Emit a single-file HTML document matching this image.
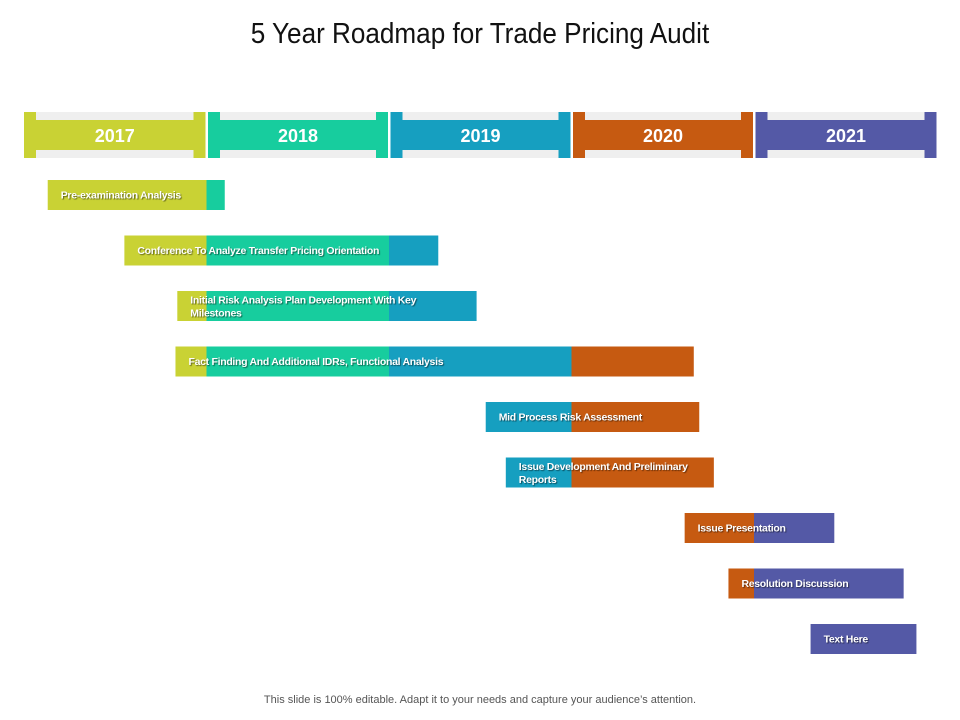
<!DOCTYPE html>
<html><head><meta charset="utf-8"><style>
body{margin:0;background:#fff;width:960px;height:720px;overflow:hidden;font-family:"Liberation Sans",sans-serif}
.title{position:absolute;left:0;top:18px;width:960px;text-align:center;font-size:29px;color:#111;transform:scaleX(0.9)}
.foot{position:absolute;left:0;top:694px;width:960px;text-align:center;font-size:11px;color:#555}
</style></head><body>
<div class="title">5 Year Roadmap for Trade Pricing Audit</div>
<svg id="chart" width="960" height="720" style="position:absolute;left:0;top:0"></svg>
<div class="foot">This slide is 100% editable. Adapt it to your needs and capture your audience’s attention.</div>
<script>
const years=["2017","2018","2019","2020","2021"];
const yearColors=["#c9d234","#17cd9e","#169fc0","#c65a11","#5459a6"];
const taskLabels=[["Pre-examination Analysis"],["Conference To Analyze Transfer Pricing Orientation"],["Initial Risk Analysis Plan Development With Key","Milestones"],["Fact Finding And Additional IDRs, Functional Analysis"],["Mid Process Risk Assessment"],["Issue Development And Preliminary","Reports"],["Issue Presentation"],["Resolution Discussion"],["Text Here"]];
const taskStart=[2017.13,2017.55,2017.84,2017.83,2019.53,2019.64,2020.62,2020.86,2021.31];
const taskEnd=[2018.10,2019.27,2019.48,2020.67,2020.70,2020.78,2021.44,2021.82,2021.89];
const NS="http://www.w3.org/2000/svg";
const svg=document.getElementById('chart');
const x0=24,yw=182.5;
const xs=v=>x0+(v-2017)*yw;
function mk(t,a){const e=document.createElementNS(NS,t);for(const k in a)e.setAttribute(k,a[k]);svg.appendChild(e);return e;}
years.forEach((y,i)=>{
  const l=xs(2017+i)+(i?1.5:0), r=xs(2018+i)-(i<4?1:0);
  const g=mk('rect',{x:l,y:112,width:r-l,height:46,fill:yearColors[i]});
  
  
  mk('rect',{x:l+12,y:112,width:r-l-24,height:8,fill:'#efefef'});
  mk('rect',{x:l+12,y:150,width:r-l-24,height:8,fill:'#efefef'});
  const t=mk('text',{x:(l+r)/2,y:142,'text-anchor':'middle',fill:'#fff','font-size':18,'font-weight':'bold','font-family':'Liberation Sans, sans-serif'});
  t.textContent=y;
  
  
});
taskStart.forEach((s,i)=>{
  const e=taskEnd[i], top=180+i*55.5;
  for(let k=0;k<5;k++){
    const a=Math.max(s,2017+k), b=Math.min(e,2018+k);
    if(b>a){
      const r=mk('rect',{x:xs(a),y:top,width:xs(b)-xs(a),height:30,fill:yearColors[k]});
      
      
    }
  }
  const lines=taskLabels[i];
  lines.forEach((ln,j)=>{
    const ty=lines.length===1?top+18.5:top+12.5+j*13;
    const t=mk('text',{x:xs(s)+13,y:ty,fill:'#fff','font-size':10.5,'font-weight':'bold','font-family':'Liberation Sans Narrow, Liberation Sans, sans-serif',style:'text-shadow:1px 1px 1px rgba(0,0,0,0.5)','letter-spacing':'-0.3'});
    t.textContent=ln;
    
    
  });
});
</script>
</body></html>
